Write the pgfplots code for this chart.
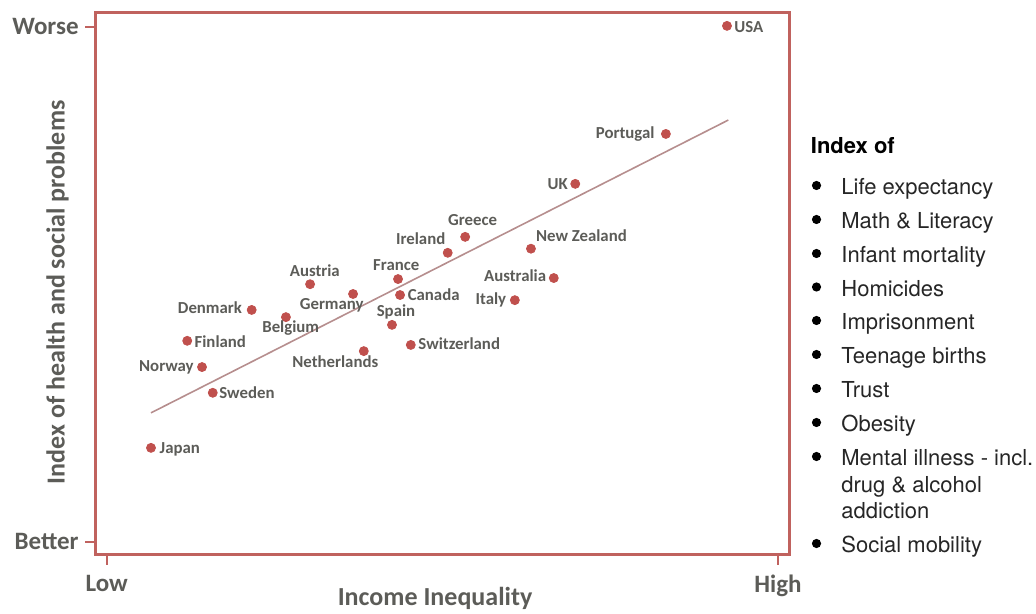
\documentclass[border=0pt]{standalone}
\usepackage{fontspec}
\setmainfont{Carlito}
\newfontfamily\listfont{TeX Gyre Heros}
\usepackage{pgfplots}
\usepackage{pgfplotstable}
\pgfplotsset{compat=1.18}

\definecolor{framecol}{RGB}{192,98,94}
\definecolor{dotcol}{RGB}{192,80,77}
\definecolor{trendcol}{RGB}{182,142,142}
\definecolor{labelgray}{RGB}{92,92,88}
\definecolor{listtext}{RGB}{38,38,38}

% inequality (0 = low, 100 = high), problems index (0 = better, 100 = worse)
% dx, dy: label offset from the dot in pt
% labels right of the dot
\pgfplotstableread[col sep=comma]{
x,y,dx,dy,name
92.4,100.2,3.5,-3.15,USA
63.2,56.9,2.35,3.65,New Zealand
43.7,47.9,3.65,-2.5,Canada
45.3,38.2,3.65,-2.15,Switzerland
12.0,39.0,3.5,-3.15,Finland
15.8,28.9,3.15,-2.65,Sweden
6.6,18.2,4.15,-2.65,Japan
}\rightlab
% labels left of the dot
\pgfplotstableread[col sep=comma]{
x,y,dx,dy,name
83.3,79.2,-5.5,-2.15,Portugal
69.8,69.5,-3.5,-3.0,UK
50.8,56.1,-1.0,4.35,Ireland
66.6,51.2,-3.65,-1.5,Australia
60.8,46.9,-4.15,-2.0,Italy
21.6,45.0,-4.65,-2.0,Denmark
14.2,33.9,-4.0,-2.35,Norway
}\leftlab
% labels centred above or below the dot
\pgfplotstableread[col sep=comma]{
x,y,dx,dy,name
53.4,59.2,3.75,5.5,Greece
43.4,51.0,-0.9,4.5,France
42.5,42.1,2.0,4.15,Spain
38.3,37.0,-14.25,-8.15,Netherlands
36.7,48.1,-10.65,-7.65,Germany
30.3,50.0,2.35,3.65,Austria
26.7,43.6,2.4,-7.65,Belgium
}\midlab

\pgfplotsset{
	country/.style={
		only marks, mark=*, mark size=2.25pt,
		mark options={draw=dotcol, fill=dotcol},
		point meta=explicit symbolic,
		visualization depends on={\thisrow{dx}\as\lx},
		visualization depends on={\thisrow{dy}\as\ly},
		nodes near coords,
		nodes near coords style={anchor=#1, xshift=\lx pt, yshift=\ly pt,
			inner sep=0pt, font=\fontsize{8.4}{10}\selectfont\bfseries, text=labelgray},
	},
}

\begin{document}
\begin{tikzpicture}
\begin{axis}[
	at={(47.5pt,29.5pt)}, anchor=south west,
	scale only axis, width=347pt, height=271.25pt,
	xmin=-1.74, xmax=101.64, ymin=-2.62, ymax=102.8,
	clip=false,
	axis line style={framecol, line width=1.5pt},
	tick pos=left, tick align=outside, major tick length=5pt,
	tick style={framecol, line width=1pt},
	xtick={0,100}, xticklabels={Low,High},
	ytick={0,100}, yticklabels={Better,Worse},
	ticklabel style={font=\fontsize{12.5}{15}\selectfont\bfseries, text=labelgray, inner sep=0pt},
	xticklabel style={anchor=north, yshift=-5pt},
	yticklabel style={anchor=east, xshift=-3pt},
	xlabel={Income Inequality},
	ylabel={Index of health and social problems},
	label style={font=\fontsize{13}{15}\selectfont\bfseries, text=labelgray, inner sep=0pt},
	xlabel style={at={(axis description cs:0.49,0)}, anchor=base, yshift=-25.5pt},
	ylabel style={at={(axis description cs:0,0.484)}, anchor=base, yshift=15.25pt},
]
\addplot[trendcol, line width=0.8pt] coordinates {(6.6,25.0) (92.6,81.9)};

\addplot[country=base west] table[x=x, y=y, meta=name] {\rightlab};
\addplot[country=base east] table[x=x, y=y, meta=name] {\leftlab};
\addplot[country=base] table[x=x, y=y, meta=name] {\midlab};
\end{axis}

% side panel, in pixel units of the reference
\begin{scope}[yshift=307pt, x=0.5pt, y=-0.5pt]
\node[anchor=base west, inner sep=0pt, text=black,
	font=\listfont\bfseries\fontsize{11}{13}\selectfont] at (810.5,154) {Index of};
\foreach \yy/\txt in {195/Life expectancy, 229/Math \& Literacy, 263/Infant mortality,
		296.5/Homicides, 330/Imprisonment, 364/Teenage births, 398/Trust, 432/Obesity,
		466/Mental illness - incl., 553/Social mobility} {
	\fill[black] (816.5,\yy-9.5) circle[radius=2.3pt];
	\node[anchor=base west, inner sep=0pt, text=listtext,
		font=\listfont\fontsize{11}{13}\selectfont] at (841,\yy) {\txt};
}
\node[anchor=base west, inner sep=0pt, text=listtext,
	font=\listfont\fontsize{11}{13}\selectfont] at (841,492.5) {drug \& alcohol};
\node[anchor=base west, inner sep=0pt, text=listtext,
	font=\listfont\fontsize{11}{13}\selectfont] at (841,519) {addiction};
\end{scope}

\pgfresetboundingbox
\path (0,0) rectangle (518pt,307pt);
\end{tikzpicture}
\end{document}
